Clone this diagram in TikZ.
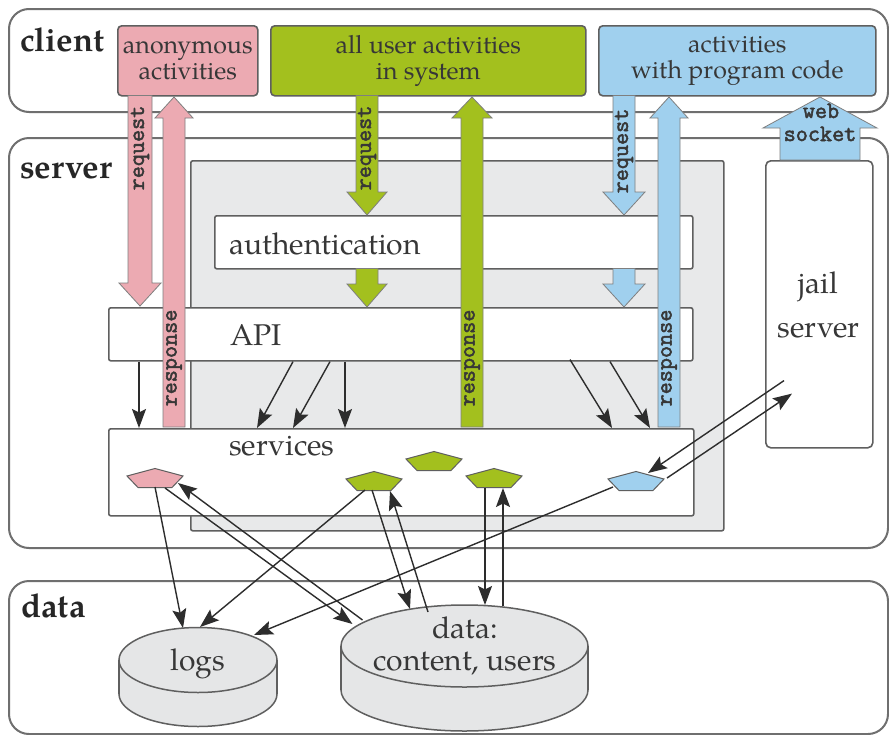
\documentclass[tikz,border=0pt]{standalone}
\usepackage{fontspec}
\setmainfont{TeX Gyre Pagella}
\newfontfamily\monof[FakeBold=2.2]{Latin Modern Mono}
\usetikzlibrary{arrows.meta,calc}
\definecolor{pinkc}{RGB}{236,170,178}
\definecolor{greenc}{RGB}{163,192,30}
\definecolor{bluec}{RGB}{160,208,238}
\definecolor{grayfill}{RGB}{232,233,234}
\definecolor{cylfill}{RGB}{229,230,231}
\definecolor{edgec}{RGB}{95,95,95}
\definecolor{txtc}{RGB}{55,55,55}
\definecolor{arrc}{RGB}{45,45,45}
\newcommand\blockarr[7]{%
  \filldraw[blk, fill=#7] (#1-#5,#2) -- (#1-#5,#3) -- (#1-#6,#3) -- (#1,#4) -- (#1+#6,#3) -- (#1+#5,#3) -- (#1+#5,#2) -- cycle;}
\newcommand\pentag[4]{%
  \coordinate (#1) at (#2,#3);
  \filldraw[pent, fill=#4] (#2,#3-9.5) -- (#2+28,#3-2) -- (#2+17,#3+9.5) -- (#2-17,#3+9.5) -- (#2-28,#3-2) -- cycle;}
\newcommand\cylin[6]{%
  \coordinate (#1) at (#2,#3);
  \filldraw[cylline, fill=cylfill] (#2,#3+#6) ellipse [x radius=#4, y radius=#5];
  \fill[cylfill] (#2-#4,#3) rectangle (#2+#4,#3+#6);
  \draw[cylline] (#2-#4,#3) -- (#2-#4,#3+#6) (#2+#4,#3) -- (#2+#4,#3+#6);
  \filldraw[cylline, fill=cylfill] (#2,#3) ellipse [x radius=#4, y radius=#5];}
\begin{document}
\begin{tikzpicture}[x=1pt,y=-1pt,
  outerbox/.style={draw=edgec!90, line width=2pt, rounded corners=20pt, fill=white, anchor=north west, inner sep=0},
  innerbox/.style={draw=edgec, line width=1.6pt, rounded corners=2pt, fill=white, anchor=north west, inner sep=0},
  clientbox/.style={draw=edgec, line width=1.6pt, rounded corners=4pt, anchor=north west, inner sep=0, align=center, text=txtc, font=\fontsize{25}{26}\selectfont},
  lbl/.style={font=\fontsize{30}{44}\selectfont, text=txtc, inner sep=0, align=center},
  boldlbl/.style={font=\bfseries\fontsize{33}{36}\selectfont, text=black!85, inner sep=0, anchor=base west},
  mono/.style={font=\monof\fontsize{23.5}{24}\selectfont, text=txtc, inner sep=0, align=center},
  blk/.style={draw=edgec!80, line width=0.8pt},
  pent/.style={draw=edgec, line width=1pt},
  cylline/.style={draw=edgec, line width=1.5pt},
  conn/.style={draw=arrc, line width=1.4pt, -{Stealth[length=19pt, width=14pt, inset=3.5pt]}}]
\useasboundingbox (0,0) rectangle (889,734);
\fill[white] (0,0) rectangle (889,734);
% outer zones
\node[outerbox, minimum width=879pt, minimum height=103pt] (client) at (8,8) {};
\node[outerbox, minimum width=879pt, minimum height=410pt] (server) at (8,137) {};
\node[outerbox, minimum width=879pt, minimum height=153pt] (data) at (8,580) {};
% server internals
\node[innerbox, fill=grayfill, minimum width=533pt, minimum height=370pt] (core) at (190,160) {};
\node[innerbox, minimum width=478pt, minimum height=53pt] (auth) at (214,215) {};
\node[innerbox, minimum width=584pt, minimum height=53pt] (api) at (108,307) {};
\node[innerbox, minimum width=585pt, minimum height=87pt] (svc) at (108,428) {};
\node[innerbox, rounded corners=5pt, minimum width=107pt, minimum height=287pt] (jail) at (765,160) {};
% client boxes
\node[clientbox, fill=pinkc, minimum width=140pt, minimum height=70pt] (anon) at (117,25) {anonymous\\activities};
\node[clientbox, fill=greenc, minimum width=315pt, minimum height=70pt] (alluser) at (270,25) {all user activities\\in system};
\node[clientbox, fill=bluec, minimum width=277pt, minimum height=70pt] (prog) at (598,25) {activities\\with program code};
% zone labels
\node[boldlbl] (clientlbl) at (20,51) {client};
\node[boldlbl] (serverlbl) at (20,178) {server};
\node[boldlbl] (datalbl) at (21,617) {data};
% box labels
\node[lbl, anchor=base west] (authtxt) at (229,254) {authentication};
\node[lbl, anchor=base west] (apitxt) at (230,345) {API};
\node[lbl, anchor=base west] (svctxt) at (229,455) {services};
\node[lbl, anchor=base] (jailtxt) at (818.5,293) {jail};
\node[lbl, anchor=base] (jailtxt2) at (818.5,337) {server};
% services
\pentag{pk}{155}{478}{pinkc}
\pentag{g1}{374}{481}{greenc}
\pentag{g2}{434}{461}{greenc}
\pentag{g3}{494}{478}{greenc}
\pentag{bl}{636}{481}{bluec}
% data stores
\cylin{logs}{198}{660}{79}{32.5}{34}
\cylin{datc}{464.5}{646}{123.5}{41}{44}
\node[lbl, anchor=base] (logstxt) at (198,670) {logs};
\node[lbl, anchor=base] (datatxt) at (465,638) {data:};
\node[lbl, anchor=base] (datatxt2) at (465,670) {content, users};
% API -> services
\draw[conn] ($(api.south west)+(31,0)$) -- ($(svc.north west)+(31,0)$);
\draw[conn] ($(api.south west)+(185,0)$) -- ($(svc.north west)+(149,0)$);
\draw[conn] ($(api.south west)+(222,0)$) -- ($(svc.north west)+(185,0)$);
\draw[conn] ($(api.south west)+(237,0)$) -- ($(svc.north west)+(237,0)$);
\draw[conn] ($(api.south west)+(462,-2)$) -- ($(svc.north west)+(504,0)$);
\draw[conn] ($(api.south west)+(502,0)$) -- ($(svc.north west)+(542,0)$);
% services <-> data
\draw[conn] ($(pk)+(0,9)$) -- ($(logs)+(-15,-32)$);
\draw[conn] ($(pk)+(10,10)$) -- ($(datc)+(-112,-22)$);
\draw[conn] ($(datc)+(-102,-26)$) -- ($(pk)+(23,5)$);
\draw[conn] ($(g1)+(-9,9)$) -- ($(logs)+(2,-33)$);
\draw[conn] ($(g1)+(-2,9)$) -- ($(datc)+(-54.5,-37)$);
\draw[conn] ($(datc)+(-36.5,-34)$) -- ($(g1)+(16,10)$);
\draw[conn] ($(g3)+(-9,10)$) -- ($(datc)+(20.5,-41)$);
\draw[conn] ($(datc)+(38.5,-40)$) -- ($(g3)+(9,10)$);
\draw[conn] ($(bl)+(-23,6)$) -- ($(logs)+(56,-25)$);
\draw[conn] ($(jail.south west)+(19,-68)$) -- ($(bl)+(12,-8)$);
\draw[conn] ($(bl)+(31,-3)$) -- ($(jail.south west)+(27,-55)$);
% block arrows
\blockarr{140}{95.5}{283}{306}{12}{21}{pinkc}
\blockarr{174}{427}{118}{97}{11}{19}{pinkc}
\blockarr{367}{95.5}{192}{215}{11}{20}{greenc}
\blockarr{367}{268.5}{284}{307}{11}{20}{greenc}
\blockarr{472}{427}{118}{97}{11}{20}{greenc}
\blockarr{624}{95.5}{192}{215}{11}{21}{bluec}
\blockarr{624}{268.5}{284}{307}{11}{21}{bluec}
\blockarr{669}{427}{118}{97}{11}{19}{bluec}
\blockarr{820}{160}{128}{97}{40}{57}{bluec}
\node[mono, rotate=90] (rq1) at (140,148) {request};
\node[mono, rotate=90] (rq2) at (367,148) {request};
\node[mono, rotate=90] (rq3) at (624,151) {request};
\node[mono, rotate=90] (rs1) at (174,358) {response};
\node[mono, rotate=90] (rs2) at (472,358) {response};
\node[mono, rotate=90] (rs3) at (669,358) {response};
\node[mono, anchor=base] (ws1) at (821,118) {web};
\node[mono, anchor=base] (ws2) at (820,141) {socket};
\end{tikzpicture}
\end{document}
